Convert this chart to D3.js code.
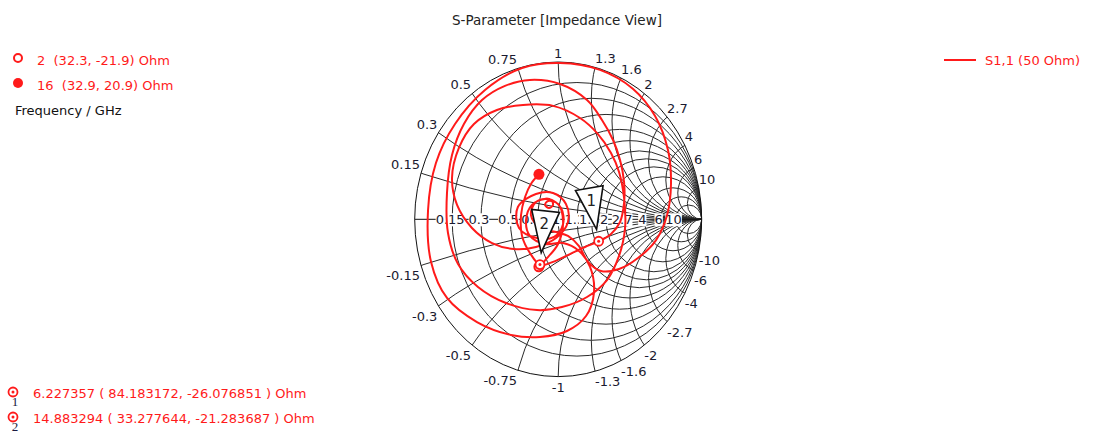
<!DOCTYPE html>
<html><head><meta charset="utf-8">
<script src="https://cdn.jsdelivr.net/npm/d3@7"></script>
<style>
html,body{margin:0;padding:0;background:#fff;}
svg{display:block;font-family:"DejaVu Sans",Verdana,sans-serif;}
</style></head><body>
<svg id="chart" width="1094" height="432"></svg>
<script>
// Smith chart grid values (normalized resistance / reactance)
const gridValues = [0.15, 0.3, 0.5, 0.75, 1, 1.3, 1.6, 2, 2.7, 4, 6, 10];

// S1,1 reflection coefficient trace, 2 GHz .. 16 GHz (real / imaginary part)
const s11Re = [-0.135,-0.036,0.082,0.187,0.282,0.368,0.431,0.459,0.459,0.431,0.382,0.305,0.201,0.013,-0.197,-0.371,-0.531,-0.657,-0.740,-0.775,
  -0.768,-0.698,-0.559,-0.364,-0.148,0.026,0.201,0.340,0.424,0.466,0.459,0.424,0.368,0.277,0.152,-0.036,-0.245,-0.427,-0.587,-0.692,
  -0.740,-0.705,-0.601,-0.461,-0.308,-0.155,-0.015,0.068,0.054,-0.036,-0.155,-0.281,-0.273,-0.148,-0.029,0.034,0.020,-0.064,-0.155,-0.190,
  -0.127,-0.015,0.068,0.145,0.208,0.298,0.424,0.556,0.682,0.759,0.786,0.765,0.675,0.522,0.291,0.013,-0.252,-0.510,-0.719,-0.852,
  -0.907,-0.886,-0.775,-0.566,-0.329,-0.127,0.061,0.194,0.249,0.222,0.145,0.034,-0.092,-0.197,-0.224,-0.183,-0.092,
  -0.050,-0.036,-0.064,-0.092,-0.071,-0.001,0.034,-0.001,
  -0.078,-0.127,-0.197,-0.252,-0.259,-0.231,-0.190,-0.134];
const s11Im = [-0.302,-0.271,-0.221,-0.176,-0.140,-0.093,-0.017,0.104,0.237,0.377,0.504,0.631,0.758,0.860,0.886,0.848,0.758,0.606,0.409,0.168,
  -0.087,-0.284,-0.430,-0.532,-0.577,-0.558,-0.494,-0.386,-0.233,-0.055,0.136,0.301,0.422,0.542,0.644,0.721,0.727,0.695,0.606,0.454,
  0.263,0.091,-0.055,-0.151,-0.189,-0.176,-0.119,-0.017,0.097,0.167,0.161,0.078,-0.055,-0.119,-0.112,-0.030,0.072,0.129,0.110,0.027,
  -0.055,-0.081,-0.106,-0.170,-0.271,-0.329,-0.316,-0.246,-0.132,0.027,0.224,0.441,0.657,0.829,0.950,0.994,0.962,0.822,0.606,0.358,
  0.059,-0.271,-0.500,-0.653,-0.735,-0.748,-0.710,-0.615,-0.469,-0.303,-0.201,-0.151,-0.157,-0.106,-0.004,0.091,0.129,
  0.123,0.091,0.072,0.091,0.116,0.097,-0.017,-0.157,
  -0.246,-0.288,-0.214,-0.106,0.027,0.142,0.225,0.286];

// Sweep end points (frequency in GHz, impedance in Ohm)
const sweepFreq = [2, 16];
const sweepR = [32.3, 32.9];
const sweepX = [-21.9, 20.9];

// Markers (frequency in GHz, impedance in Ohm)
const markerFreq = [6.227357, 14.883294];
const markerR = [84.183172, 33.277644];
const markerX = [-26.076851, -21.283687];
const z0 = 50;

const seriesName = "S1,1 (50 Ohm)";
const titleText = "S-Parameter [Impedance View]";
const unitText = "Frequency / GHz";

// ---- layout / style ----
const RED = "#ff1a1a", GRID = "#2a2a2a", LABEL = "#1a1a30";
const cx = 558.2, cy = 219.3, rx = 143.5, ry = 157.3;
const markerTilt = [-10, 6];

const svg = d3.select("#chart");
const xs = d3.scaleLinear().domain([-1, 1]).range([cx - rx, cx + rx]);
const ys = d3.scaleLinear().domain([-1, 1]).range([cy + ry, cy - ry]);
const kx = xs(1) - xs(0), ky = ys(0) - ys(1);

function gamma(R, X) {
  const a = R / z0, b = X / z0;
  const d = (a + 1) * (a + 1) + b * b;
  return [((a - 1) * (a + 1) + b * b) / d, (b * (a + 1) - (a - 1) * b) / d];
}
const f1 = v => v.toFixed(1);
const f6 = v => v.toFixed(6);

// title
svg.append("text").attr("x", 557).attr("y", 25).attr("text-anchor", "middle")
  .attr("font-size", 13.5).attr("fill", "#222").text(titleText);

// clip to the unit circle
svg.append("defs").append("clipPath").attr("id", "unit")
  .append("ellipse").attr("cx", xs(0)).attr("cy", ys(0)).attr("rx", kx).attr("ry", ky);

const grid = svg.append("g").attr("fill", "none").attr("stroke", GRID).attr("stroke-width", 1);
const gridClip = grid.append("g").attr("clip-path", "url(#unit)");

// constant resistance circles
gridClip.selectAll("ellipse.r").data(gridValues).join("ellipse").attr("class", "r")
  .attr("cx", r => xs(r / (r + 1))).attr("cy", ys(0))
  .attr("rx", r => kx / (r + 1)).attr("ry", r => ky / (r + 1));

// constant reactance arcs (positive and negative)
const reactances = gridValues.flatMap(v => [v, -v]);
gridClip.selectAll("ellipse.x").data(reactances).join("ellipse").attr("class", "x")
  .attr("cx", xs(1)).attr("cy", v => ys(1 / v))
  .attr("rx", v => kx / Math.abs(v)).attr("ry", v => ky / Math.abs(v));

// real axis and outer circle
grid.append("line").attr("x1", xs(-1)).attr("x2", xs(1)).attr("y1", ys(0)).attr("y2", ys(0)).attr("stroke", "#111");
grid.append("ellipse").attr("cx", xs(0)).attr("cy", ys(0)).attr("rx", kx).attr("ry", ky).attr("stroke", "#111");

// reactance labels round the rim
const rimLabels = svg.append("g").attr("font-size", 13).attr("fill", LABEL);
reactances.forEach(v => {
  const u = (v * v - 1) / (v * v + 1), w = 2 * v / (v * v + 1);
  const px = xs(u), py = ys(w);
  const anchor = u < -0.05 ? "end" : (u > 0.05 ? "start" : "middle");
  rimLabels.append("text")
    .attr("x", anchor === "end" ? px - 1 : px)
    .attr("y", v > 0 ? py - 4 : py + 15)
    .attr("text-anchor", anchor)
    .text(v > 0 ? String(v) : "-" + Math.abs(v));
});

// resistance labels on the real axis, on white patches
const axisLabels = svg.append("g").attr("font-size", 13).attr("fill", LABEL);
gridValues.forEach(r => {
  const g = axisLabels.append("g");
  const t = g.append("text").attr("x", xs((r - 1) / (r + 1)) - 2).attr("y", ys(0) + 5)
    .attr("text-anchor", "middle").text(String(r));
  const b = t.node().getBBox();
  g.insert("rect", "text").attr("x", b.x).attr("y", b.y + 1).attr("width", b.width).attr("height", b.height - 2)
    .attr("fill", "#fff");
});

// S1,1 trace
const idx = d3.range(s11Re.length);
svg.append("path").datum(idx)
  .attr("fill", "none").attr("stroke", RED).attr("stroke-width", 2).attr("stroke-linejoin", "round")
  .attr("d", d3.line().x(i => xs(s11Re[i])).y(i => ys(s11Im[i])).curve(d3.curveCatmullRom.alpha(0.5)));

// marker flags
const mk = markerFreq.map((f, i) => {
  const g = gamma(markerR[i], markerX[i]);
  return { f, i, x: xs(g[0]), y: ys(g[1]) };
});
const flags = svg.append("g");
mk.forEach(m => {
  const g = flags.append("g").attr("transform", `translate(${m.x},${m.y}) rotate(${markerTilt[m.i]})`);
  g.append("path").attr("d", "M0,-12 L-14,-54 L14,-54 Z")
    .attr("fill", "#fff").attr("stroke", "#111").attr("stroke-width", 1.6).attr("stroke-linejoin", "miter");
  const a = markerTilt[m.i] * Math.PI / 180;
  g.append("text").attr("transform", `rotate(${-markerTilt[m.i]})`)
    .attr("x", 42 * Math.sin(a)).attr("y", -42 * Math.cos(a) + 6)
    .attr("text-anchor", "middle").attr("font-size", 15).attr("fill", "#222").text(m.i + 1);
});

// sweep start / end symbols
const gs = gamma(sweepR[0], sweepX[0]), ge = gamma(sweepR[1], sweepX[1]);
svg.append("circle").attr("cx", xs(gs[0])).attr("cy", ys(gs[1])).attr("r", 4.5)
  .attr("fill", "#fff").attr("stroke", RED).attr("stroke-width", 2);
svg.append("circle").attr("cx", xs(ge[0])).attr("cy", ys(ge[1])).attr("r", 5.5).attr("fill", RED);

// marker symbols on the trace
function markerSymbol(sel, x, y) {
  sel.append("circle").attr("cx", x).attr("cy", y).attr("r", 4.5)
    .attr("fill", "#fff").attr("stroke", RED).attr("stroke-width", 1.8);
  sel.append("circle").attr("cx", x).attr("cy", y).attr("r", 1.5).attr("fill", RED);
}
mk.forEach(m => markerSymbol(svg, m.x, m.y));

// sweep legend (top left)
const leg = svg.append("g").attr("font-size", 13);
leg.append("circle").attr("cx", 18).attr("cy", 58).attr("r", 4).attr("fill", "#fff").attr("stroke", RED).attr("stroke-width", 2);
leg.append("text").attr("x", 37).attr("y", 65).attr("fill", RED).attr("xml:space", "preserve")
  .text(`${sweepFreq[0]}  (${f1(sweepR[0])}, ${f1(sweepX[0])}) Ohm`);
leg.append("circle").attr("cx", 18).attr("cy", 83).attr("r", 5).attr("fill", RED);
leg.append("text").attr("x", 37).attr("y", 90).attr("fill", RED).attr("xml:space", "preserve")
  .text(`${sweepFreq[1]}  (${f1(sweepR[1])}, ${f1(sweepX[1])}) Ohm`);
leg.append("text").attr("x", 15).attr("y", 115).attr("fill", "#111").text(unitText);

// series legend (top right)
svg.append("line").attr("x1", 944).attr("x2", 976).attr("y1", 60).attr("y2", 60).attr("stroke", RED).attr("stroke-width", 2);
svg.append("text").attr("x", 985).attr("y", 65).attr("font-size", 13).attr("fill", RED).text(seriesName);

// marker readout (bottom left)
mk.forEach((m, k) => {
  const y = 392 + 25 * k;
  const g = svg.append("g");
  markerSymbol(g, 13, y);
  g.append("text").attr("x", 15).attr("y", y + 14).attr("text-anchor", "middle")
    .attr("font-family", "'Liberation Serif',serif").attr("font-size", 13).attr("fill", "#1a1a40").text(m.i + 1);
  g.append("text").attr("x", 33).attr("y", y + 6).attr("font-size", 13).attr("fill", RED)
    .text(`${f6(m.f)} ( ${f6(markerR[m.i])}, ${f6(markerX[m.i])} ) Ohm`);
});
</script>
</body></html>
